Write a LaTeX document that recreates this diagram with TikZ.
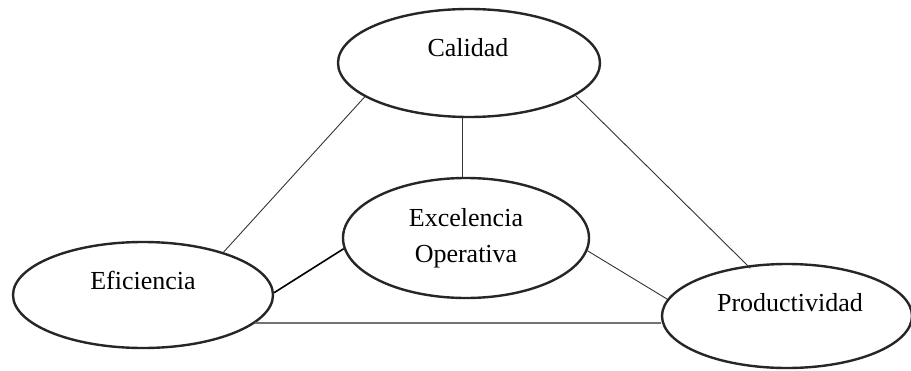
\documentclass[tikz,border=0pt]{standalone}
\usepackage{fontspec}
\setmainfont{Liberation Serif}
\usetikzlibrary{shapes.geometric}
\begin{document}
\begin{tikzpicture}[x=1pt,y=-1pt,
  oval/.style={ellipse, draw=black!85, line width=2.4pt, inner sep=0pt},
  lbl/.style={anchor=base, inner sep=0pt, align=center, font=\fontsize{26}{36}\selectfont},
  thinline/.style={draw=black!80, line width=0.9pt},
  boldline/.style={draw=black, line width=1.6pt},
  grayline/.style={draw=black!55, line width=1.7pt}
]
\useasboundingbox (0,0) rectangle (911,370);
% ellipses
\node[oval, minimum width=262pt, minimum height=108pt] (cal) at (469,63) {};
\node[oval, minimum width=246pt, minimum height=120pt] (exc) at (466,238) {};
\node[oval, minimum width=260pt, minimum height=106pt] (ef) at (143,295) {};
\node[oval, minimum width=250pt, minimum height=104pt] (prod) at (787,316) {};
% labels
\node[lbl] (calT) at (468,56) {Calidad};
\node[lbl] (excT) at (466,262) {Excelencia\\Operativa};
\node[lbl] (efT) at (143,289) {Eficiencia};
\node[lbl] (prodT) at (790,311) {Productividad};
% connectors
\draw[thinline] (cal.198) -- (ef.28);
\draw[thinline, shorten >=-4pt] (cal.343) -- (prod.128);
\draw[thinline] (cal.263) -- (exc.north -| cal.263);
\draw[thinline] (exc.354) -- (prod.172);
\draw[boldline] (ef.1) -- (exc.185);
\draw[grayline] (ef.346) -- (ef.346 -| prod.west);
\end{tikzpicture}
\end{document}
